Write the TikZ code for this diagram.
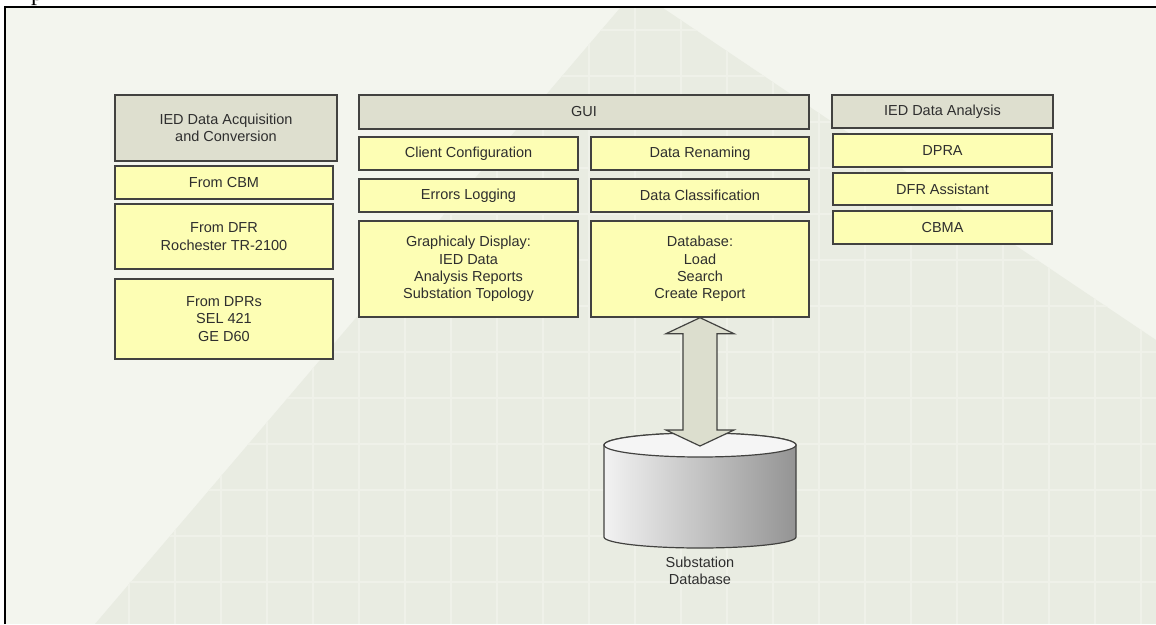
\documentclass[tikz,border=0pt]{standalone}
\usepackage{fontspec}
\setmainfont{Liberation Sans}
\newfontfamily\serifp{Liberation Serif}
\usetikzlibrary{calc}
\definecolor{bglight}{HTML}{F3F5EE}
\definecolor{bgdark}{HTML}{E9ECE2}
\definecolor{gridc}{HTML}{EFF1E9}
\definecolor{hdrfill}{HTML}{DEDFCF}
\definecolor{itemfill}{HTML}{FDFEB4}
\definecolor{boxline}{HTML}{424240}
\definecolor{txt}{HTML}{2E2E2E}
\definecolor{arrfill}{HTML}{DCDECE}
\newcommand{\fs}{\fontsize{14.5}{17.2}\selectfont}
\tikzset{
  base/.style={draw=boxline, line width=1.4pt, text=txt, font=\fs, align=center, inner sep=0pt},
  hdr/.style={base, fill=hdrfill},
  item/.style={base, fill=itemfill},
}
\begin{document}
\begin{tikzpicture}[x=1pt,y=-1pt]
\useasboundingbox (0,0) rectangle (1156,624);
% background
\fill[white] (0,0) rectangle (1156,624);
\fill[bglight] (5,7) rectangle (1156,624);
\begin{scope}
  \clip (620,8) -- (663,8) -- (1156,340) -- (1156,624) -- (95,624) -- cycle;
  \fill[bgdark] (0,0) rectangle (1156,624);
  \foreach \i in {0,...,24} {
    \draw[gridc, line width=1.6pt] ({37+46*\i},8) -- ({37+46*\i},624);
  }
  \foreach \j in {0,...,13} {
    \draw[gridc, line width=1.6pt] (5,{30+46*\j}) -- (1156,{30+46*\j});
  }
\end{scope}
\draw[black, line width=2pt] (5,624) -- (5,7) -- (1156,7);
\node[anchor=base west, font=\serifp\fontsize{24}{24}\selectfont, inner sep=0pt] (ptxt) at (31,0) {p};

% left column
\node[hdr, minimum width=222, minimum height=66] (acq) at (226,128) {IED Data Acquisition\\and Conversion};
\node[item, minimum width=218, minimum height=33] (cbm) at (224,182.5) {From CBM};
\node[item, minimum width=218, minimum height=65] (dfr) at (224,236.5) {From DFR\\Rochester TR-2100};
\node[item, minimum width=218, minimum height=80] (dprs) at (224,319) {From DPRs\\SEL 421\\GE D60};

% middle column
\node[hdr, minimum width=450, minimum height=34] (gui) at (584,112) {GUI};
\node[item, minimum width=219, minimum height=33] (cc) at (468.5,153.5) {Client Configuration};
\node[item, minimum width=218, minimum height=33] (dr) at (700,153.5) {Data Renaming};
\node[item, minimum width=219, minimum height=33] (el) at (468.5,195.5) {Errors Logging};
\node[item, minimum width=218, minimum height=33] (dc) at (700,195.5) {Data Classification};
\node[item, minimum width=219, minimum height=96] (gd) at (468.5,269) {Graphicaly Display:\\IED Data\\Analysis Reports\\Substation Topology};
\node[item, minimum width=218, minimum height=96] (db) at (700,269) {Database:\\Load\\Search\\Create Report};

% right column
\node[hdr, minimum width=221, minimum height=33] (ana) at (942.5,111.5) {IED Data Analysis};
\node[item, minimum width=219, minimum height=33] (dpra) at (942.5,150.5) {DPRA};
\node[item, minimum width=219, minimum height=32] (dfra) at (942.5,189) {DFR Assistant};
\node[item, minimum width=219, minimum height=33] (cbma) at (942.5,227.5) {CBMA};

% cylinder (substation database)
\coordinate (cyltop) at (700,445);
\path[left color=white!95!black, right color=black!42!white, draw=boxline, line width=1.2pt]
  (604,445) -- (604,537) arc[start angle=180, end angle=360, x radius=96, y radius=-11]
  -- (796,445) arc[start angle=0, end angle=180, x radius=96, y radius=-12] -- cycle;
\draw[draw=boxline, line width=1.2pt, fill=white!96!black] (cyltop) ellipse[x radius=96, y radius=12];
\node[text=txt, font=\fs, align=center, inner sep=0pt] (dblabel) at (700,571) {Substation\\Database};

% double block arrow between database box and cylinder
\coordinate (aT) at (db.south);
\coordinate (aB) at ($(cyltop)+(0,1)$);
\draw[fill=arrfill, draw=boxline, line width=1.2pt]
  (aT) -- ($(aT)+(34,16)$) -- ($(aT)+(17,16)$) -- ($(aB)+(17,-16)$) -- ($(aB)+(34,-16)$)
  -- (aB) -- ($(aB)+(-34,-16)$) -- ($(aB)+(-17,-16)$) -- ($(aT)+(-17,16)$) -- ($(aT)+(-34,16)$) -- cycle;
\end{tikzpicture}
\end{document}
